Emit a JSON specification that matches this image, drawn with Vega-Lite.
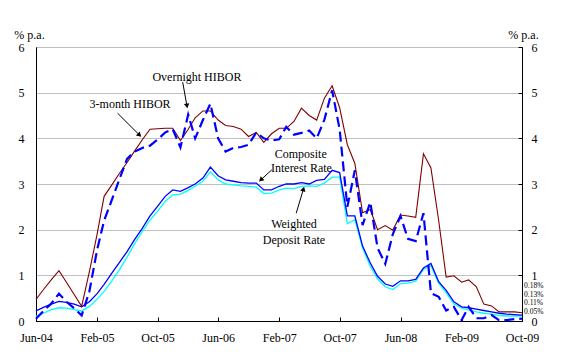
{
  "$schema": "https://vega.github.io/schema/vega-lite/v6.json",
  "width": 486,
  "height": 274,
  "autosize": {"type": "none"},
  "padding": {"left": 36, "top": 47, "right": 43, "bottom": 35},
  "background": "white",
  "config": {
    "view": {"stroke": "black", "strokeWidth": 1},
    "font": "'Liberation Serif', 'DejaVu Serif', serif",
    "text": {"font": "'Liberation Serif', 'DejaVu Serif', serif"},
    "axis": {"labelFont": "'Liberation Serif', 'DejaVu Serif', serif", "titleFont": "'Liberation Serif', 'DejaVu Serif', serif", "labelFontSize": 12, "titleFontSize": 12, "labelColor": "black", "titleColor": "black", "titleFontWeight": "normal", "domainColor": "black", "tickColor": "black"}
  },
  "datasets": {
    "rates": [
      {"date":"2004-06-01","on":0.05,"m3":0.47,"ci":0.22,"dr":0.10},
      {"date":"2004-07-01","on":0.22,"m3":0.69,"ci":0.30,"dr":0.17},
      {"date":"2004-08-01","on":0.38,"m3":0.90,"ci":0.37,"dr":0.25},
      {"date":"2004-09-01","on":0.60,"m3":1.10,"ci":0.43,"dr":0.29},
      {"date":"2004-10-01","on":0.42,"m3":0.85,"ci":0.41,"dr":0.28},
      {"date":"2004-11-01","on":0.28,"m3":0.58,"ci":0.37,"dr":0.25},
      {"date":"2004-12-01","on":0.12,"m3":0.32,"ci":0.31,"dr":0.22},
      {"date":"2005-01-01","on":0.65,"m3":1.08,"ci":0.42,"dr":0.32},
      {"date":"2005-02-01","on":1.56,"m3":1.90,"ci":0.60,"dr":0.48},
      {"date":"2005-03-01","on":2.20,"m3":2.73,"ci":0.80,"dr":0.65},
      {"date":"2005-04-01","on":2.65,"m3":2.98,"ci":1.05,"dr":0.88},
      {"date":"2005-05-01","on":3.10,"m3":3.23,"ci":1.28,"dr":1.12},
      {"date":"2005-06-01","on":3.55,"m3":3.47,"ci":1.52,"dr":1.40},
      {"date":"2005-07-01","on":3.71,"m3":3.72,"ci":1.78,"dr":1.69},
      {"date":"2005-08-01","on":3.79,"m3":3.97,"ci":2.03,"dr":1.96},
      {"date":"2005-09-01","on":3.84,"m3":4.20,"ci":2.30,"dr":2.21},
      {"date":"2005-10-01","on":3.97,"m3":4.21,"ci":2.51,"dr":2.40},
      {"date":"2005-11-01","on":4.13,"m3":4.22,"ci":2.73,"dr":2.62},
      {"date":"2005-12-01","on":4.20,"m3":4.22,"ci":2.87,"dr":2.76},
      {"date":"2006-01-01","on":3.80,"m3":3.95,"ci":2.84,"dr":2.78},
      {"date":"2006-02-01","on":4.52,"m3":4.20,"ci":2.92,"dr":2.86},
      {"date":"2006-03-01","on":4.00,"m3":4.45,"ci":3.00,"dr":2.95},
      {"date":"2006-04-01","on":4.40,"m3":4.60,"ci":3.13,"dr":3.06},
      {"date":"2006-05-01","on":4.76,"m3":4.60,"ci":3.37,"dr":3.27},
      {"date":"2006-06-01","on":4.00,"m3":4.40,"ci":3.18,"dr":3.09},
      {"date":"2006-07-01","on":3.71,"m3":4.28,"ci":3.09,"dr":3.00},
      {"date":"2006-08-01","on":3.79,"m3":4.26,"ci":3.06,"dr":2.98},
      {"date":"2006-09-01","on":3.81,"m3":4.20,"ci":3.03,"dr":2.96},
      {"date":"2006-10-01","on":3.86,"m3":4.04,"ci":3.02,"dr":2.95},
      {"date":"2006-11-01","on":4.13,"m3":4.13,"ci":3.02,"dr":2.93},
      {"date":"2006-12-01","on":4.00,"m3":3.91,"ci":2.87,"dr":2.79},
      {"date":"2007-01-01","on":3.95,"m3":4.10,"ci":2.87,"dr":2.80},
      {"date":"2007-02-01","on":3.98,"m3":4.22,"ci":2.95,"dr":2.87},
      {"date":"2007-03-01","on":4.25,"m3":4.22,"ci":3.00,"dr":2.91},
      {"date":"2007-04-01","on":4.08,"m3":4.37,"ci":3.00,"dr":2.90},
      {"date":"2007-05-01","on":4.12,"m3":4.66,"ci":3.03,"dr":2.95},
      {"date":"2007-06-01","on":4.17,"m3":4.50,"ci":3.00,"dr":2.96},
      {"date":"2007-07-01","on":4.00,"m3":4.40,"ci":3.08,"dr":2.95},
      {"date":"2007-08-01","on":4.41,"m3":4.88,"ci":3.10,"dr":3.02},
      {"date":"2007-09-01","on":5.05,"m3":5.15,"ci":3.30,"dr":3.15},
      {"date":"2007-10-01","on":4.20,"m3":4.67,"ci":3.25,"dr":3.15},
      {"date":"2007-11-01","on":2.50,"m3":3.86,"ci":2.30,"dr":2.13},
      {"date":"2007-12-01","on":3.30,"m3":3.45,"ci":2.30,"dr":2.22},
      {"date":"2008-01-01","on":2.10,"m3":2.37,"ci":1.64,"dr":1.60},
      {"date":"2008-02-01","on":2.60,"m3":2.44,"ci":1.27,"dr":1.20},
      {"date":"2008-03-01","on":1.60,"m3":2.00,"ci":0.98,"dr":0.92},
      {"date":"2008-04-01","on":1.25,"m3":2.09,"ci":0.81,"dr":0.75},
      {"date":"2008-05-01","on":1.90,"m3":1.99,"ci":0.76,"dr":0.69},
      {"date":"2008-06-01","on":2.30,"m3":2.32,"ci":0.88,"dr":0.82},
      {"date":"2008-07-01","on":1.80,"m3":2.30,"ci":0.88,"dr":0.83},
      {"date":"2008-08-01","on":1.75,"m3":2.27,"ci":0.91,"dr":0.87},
      {"date":"2008-09-01","on":2.36,"m3":3.66,"ci":1.16,"dr":1.13},
      {"date":"2008-10-01","on":0.61,"m3":3.35,"ci":1.26,"dr":1.21},
      {"date":"2008-11-01","on":0.53,"m3":2.20,"ci":0.86,"dr":0.83},
      {"date":"2008-12-01","on":0.23,"m3":0.96,"ci":0.67,"dr":0.62},
      {"date":"2009-01-01","on":0.31,"m3":0.99,"ci":0.42,"dr":0.37},
      {"date":"2009-02-01","on":0.02,"m3":0.85,"ci":0.31,"dr":0.28},
      {"date":"2009-03-01","on":0.31,"m3":0.90,"ci":0.29,"dr":0.24},
      {"date":"2009-04-01","on":0.06,"m3":0.75,"ci":0.26,"dr":0.20},
      {"date":"2009-05-01","on":0.06,"m3":0.37,"ci":0.23,"dr":0.17},
      {"date":"2009-06-01","on":0.13,"m3":0.33,"ci":0.20,"dr":0.15},
      {"date":"2009-07-01","on":0.02,"m3":0.20,"ci":0.17,"dr":0.12},
      {"date":"2009-08-01","on":0.02,"m3":0.20,"ci":0.15,"dr":0.11},
      {"date":"2009-09-01","on":0.04,"m3":0.20,"ci":0.14,"dr":0.11},
      {"date":"2009-10-01","on":0.05,"m3":0.18,"ci":0.13,"dr":0.11}
    ],
    "arrows": [
      {"id":"a1","x1":"2005-04-24","y1":4.55,"x2":"2005-07-21","y2":4.07},
      {"id":"a2","x1":"2006-01-10","y1":5.23,"x2":"2006-01-27","y2":4.71},
      {"id":"a3","x1":"2007-01-02","y1":3.31,"x2":"2006-11-19","y2":3.09},
      {"id":"a4","x1":"2007-04-10","y1":2.36,"x2":"2007-05-09","y2":2.89}
    ],
    "notes": [
      {"text":"Overnight HIBOR","date":"2006-03-08","value":5.35},
      {"text":"3-month HIBOR","date":"2005-06-13","value":4.75},
      {"text":"Composite","date":"2007-04-28","value":3.66},
      {"text":"Interest Rate","date":"2007-05-01","value":3.35},
      {"text":"Weighted","date":"2007-04-01","value":2.12},
      {"text":"Deposit Rate","date":"2007-04-01","value":1.77}
    ],
    "ends": [
      {"text":"0.18%","date":"2009-10-01","value":0.18},
      {"text":"0.13%","date":"2009-10-01","value":0.13},
      {"text":"0.11%","date":"2009-10-01","value":0.11},
      {"text":"0.05%","date":"2009-10-01","value":0.05}
    ]
  },
  "resolve": {"scale": {"y": "shared", "x": "shared"}, "axis": {"y": "independent"}},
  "layer": [
    {
      "data": {"name": "rates"},
      "mark": {"type": "line", "color": "#00ffff", "strokeWidth": 1.3},
      "encoding": {
        "x": {"field": "date", "type": "temporal",
          "scale": {"type": "utc", "domain": [{"year":2004,"month":6,"date":1,"utc":true},{"year":2009,"month":10,"date":1,"utc":true}], "nice": false},
          "axis": {"title": null, "grid": false, "tickSize": -4, "labelPadding": 15, "labelFontSize": 12,
            "values": [
              {"year":2004,"month":6,"date":1,"utc":true},{"year":2004,"month":10,"date":1,"utc":true},
              {"year":2005,"month":2,"date":1,"utc":true},{"year":2005,"month":6,"date":1,"utc":true},
              {"year":2005,"month":10,"date":1,"utc":true},{"year":2006,"month":2,"date":1,"utc":true},
              {"year":2006,"month":6,"date":1,"utc":true},{"year":2006,"month":10,"date":1,"utc":true},
              {"year":2007,"month":2,"date":1,"utc":true},{"year":2007,"month":6,"date":1,"utc":true},
              {"year":2007,"month":10,"date":1,"utc":true},{"year":2008,"month":2,"date":1,"utc":true},
              {"year":2008,"month":6,"date":1,"utc":true},{"year":2008,"month":10,"date":1,"utc":true},
              {"year":2009,"month":2,"date":1,"utc":true},{"year":2009,"month":6,"date":1,"utc":true},
              {"year":2009,"month":10,"date":1,"utc":true}
            ],
            "labelExpr": "((utcyear(datum.value)-2004)*12 + utcmonth(datum.value) - 5) % 8 == 0 ? utcFormat(datum.value, '%b-%y') : ''",
            "labelFlush": false, "labelOverlap": false}},
        "y": {"field": "dr", "type": "quantitative",
          "scale": {"domain": [0, 6], "nice": false},
          "axis": {"orient": "left", "values": [0,1,2,3,4,5,6], "grid": true, "gridColor": "#c0c0c0", "gridWidth": 1,
            "ticks": false, "tickSize": 0, "labelPadding": 12, "title": "% p.a.", "titleAngle": 0,
            "titleAlign": "center", "titleBaseline": "alphabetic", "titleX": -7, "titleY": -9}}
      }
    },
    {
      "data": {"name": "rates"},
      "mark": {"type": "line", "color": "#0000ff", "strokeWidth": 1.3},
      "encoding": {
        "x": {"field": "date", "type": "temporal"},
        "y": {"field": "ci", "type": "quantitative", "axis": null}
      }
    },
    {
      "data": {"name": "rates"},
      "mark": {"type": "line", "color": "#800000", "strokeWidth": 1.1},
      "encoding": {
        "x": {"field": "date", "type": "temporal"},
        "y": {"field": "m3", "type": "quantitative", "axis": null}
      }
    },
    {
      "data": {"name": "rates"},
      "mark": {"type": "line", "color": "#0000ff", "strokeWidth": 2.2, "strokeDash": [10, 5]},
      "encoding": {
        "x": {"field": "date", "type": "temporal"},
        "y": {"field": "on", "type": "quantitative",
          "axis": {"orient": "right", "values": [0,1,2,3,4,5,6], "grid": false, "tickSize": -4, "labelPadding": 13,
            "title": "% p.a.", "titleAngle": 0, "titleAlign": "center", "titleBaseline": "alphabetic", "titleX": 1, "titleY": -9}}
      }
    },
    {
      "data": {"name": "arrows"},
      "mark": {"type": "rule", "color": "black", "strokeWidth": 1},
      "encoding": {
        "x": {"field": "x1", "type": "temporal"},
        "y": {"field": "y1", "type": "quantitative", "axis": null},
        "x2": {"field": "x2"},
        "y2": {"field": "y2"}
      }
    },
    {
      "data": {"name": "arrows"},
      "transform": [{"filter": "datum.id == 'a1'"}],
      "mark": {"type": "point", "shape": "triangle-up", "filled": true, "color": "black", "size": 30, "angle": 135, "opacity": 1},
      "encoding": {"x": {"field": "x2", "type": "temporal"}, "y": {"field": "y2", "type": "quantitative", "axis": null}}
    },
    {
      "data": {"name": "arrows"},
      "transform": [{"filter": "datum.id == 'a2'"}],
      "mark": {"type": "point", "shape": "triangle-up", "filled": true, "color": "black", "size": 30, "angle": 171, "opacity": 1},
      "encoding": {"x": {"field": "x2", "type": "temporal"}, "y": {"field": "y2", "type": "quantitative", "axis": null}}
    },
    {
      "data": {"name": "arrows"},
      "transform": [{"filter": "datum.id == 'a3'"}],
      "mark": {"type": "point", "shape": "triangle-up", "filled": true, "color": "black", "size": 30, "angle": 228, "opacity": 1},
      "encoding": {"x": {"field": "x2", "type": "temporal"}, "y": {"field": "y2", "type": "quantitative", "axis": null}}
    },
    {
      "data": {"name": "arrows"},
      "transform": [{"filter": "datum.id == 'a4'"}],
      "mark": {"type": "point", "shape": "triangle-up", "filled": true, "color": "black", "size": 30, "angle": 17, "opacity": 1},
      "encoding": {"x": {"field": "x2", "type": "temporal"}, "y": {"field": "y2", "type": "quantitative", "axis": null}}
    },
    {
      "data": {"name": "notes"},
      "mark": {"type": "text", "fontSize": 12, "color": "black", "align": "center", "baseline": "middle"},
      "encoding": {
        "x": {"field": "date", "type": "temporal"},
        "y": {"field": "value", "type": "quantitative", "axis": null},
        "text": {"field": "text"}
      }
    },
    {
      "data": {"name": "ends"},
      "transform": [{"filter": "datum.text == '0.18%'"}],
      "mark": {"type": "text", "fontSize": 7.5, "color": "black", "align": "left", "baseline": "middle", "dx": 2, "dy": -26.5},
      "encoding": {"x": {"field": "date", "type": "temporal"}, "y": {"field": "value", "type": "quantitative", "axis": null}, "text": {"field": "text"}}
    },
    {
      "data": {"name": "ends"},
      "transform": [{"filter": "datum.text == '0.13%'"}],
      "mark": {"type": "text", "fontSize": 7.5, "color": "black", "align": "left", "baseline": "middle", "dx": 2, "dy": -20},
      "encoding": {"x": {"field": "date", "type": "temporal"}, "y": {"field": "value", "type": "quantitative", "axis": null}, "text": {"field": "text"}}
    },
    {
      "data": {"name": "ends"},
      "transform": [{"filter": "datum.text == '0.11%'"}],
      "mark": {"type": "text", "fontSize": 7.5, "color": "black", "align": "left", "baseline": "middle", "dx": 2, "dy": -12.5},
      "encoding": {"x": {"field": "date", "type": "temporal"}, "y": {"field": "value", "type": "quantitative", "axis": null}, "text": {"field": "text"}}
    },
    {
      "data": {"name": "ends"},
      "transform": [{"filter": "datum.text == '0.05%'"}],
      "mark": {"type": "text", "fontSize": 7.5, "color": "black", "align": "left", "baseline": "middle", "dx": 2, "dy": -6.7},
      "encoding": {"x": {"field": "date", "type": "temporal"}, "y": {"field": "value", "type": "quantitative", "axis": null}, "text": {"field": "text"}}
    }
  ]
}
